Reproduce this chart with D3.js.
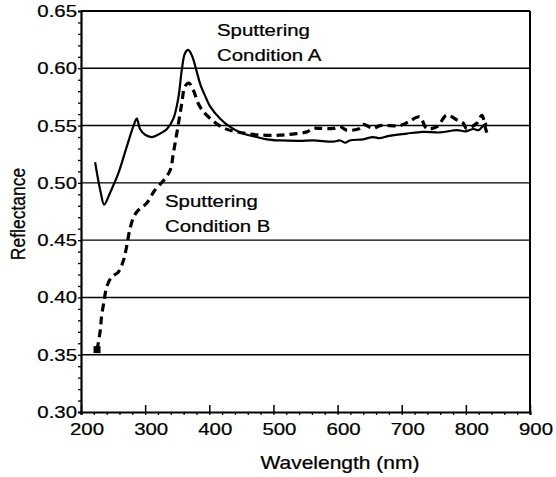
<!DOCTYPE html>
<html>
<head>
<meta charset="utf-8">
<script src="https://cdn.jsdelivr.net/npm/d3@7"></script>
<style>
  body { margin: 0; background: #fff; }
  text { font-family: "Liberation Sans", Arial, Helvetica, sans-serif; fill: #000; stroke: #000; stroke-width: 0.25px; }
</style>
</head>
<body>
<script>
// Condizione A (linea continua)
const wavelengthA = [222, 227, 231, 236, 245, 258, 271, 282, 287, 292, 300, 310, 320, 334, 344, 352, 357, 362, 367, 373,
    380, 386, 395, 401, 417, 432, 448, 474, 490, 510, 541, 562, 593, 604, 612, 619, 640, 655, 666, 680,
    708, 733, 760, 786, 800, 812, 820, 827, 833];
const reflectanceA = [0.518, 0.502, 0.491, 0.481, 0.491, 0.508, 0.531, 0.550, 0.556, 0.547, 0.542, 0.540, 0.542, 0.547, 0.556, 0.575, 0.598, 0.613, 0.616, 0.611,
    0.598, 0.586, 0.574, 0.567, 0.556, 0.549, 0.544, 0.540, 0.538, 0.537, 0.5366, 0.537, 0.536, 0.537, 0.535, 0.537, 0.538, 0.540, 0.539, 0.541,
    0.543, 0.5445, 0.544, 0.546, 0.545, 0.547, 0.546, 0.550, 0.552];

// Condizione B (linea tratteggiata)
const wavelengthB = [225, 230, 232, 236, 240, 248, 258, 266, 271, 276, 282, 289, 302, 315, 330, 339, 344, 352, 357, 362,
    368, 375, 383, 391, 404, 422, 443, 474, 510, 536, 552, 562, 573, 593, 604, 614, 635, 640, 656, 666,
    697, 710, 728, 739, 755, 770, 786, 796, 801, 817, 825, 830, 833];
const reflectanceB = [0.354, 0.371, 0.383, 0.397, 0.409, 0.418, 0.422, 0.432, 0.444, 0.459, 0.470, 0.476, 0.482, 0.4935, 0.503, 0.511, 0.526, 0.552, 0.569, 0.584,
    0.587, 0.581, 0.569, 0.562, 0.555, 0.548, 0.5445, 0.542, 0.5416, 0.543, 0.5445, 0.5475, 0.5475, 0.5475, 0.549, 0.546, 0.5475, 0.551, 0.5475, 0.550,
    0.550, 0.553, 0.5576, 0.5475, 0.549, 0.559, 0.555, 0.552, 0.5475, 0.552, 0.559, 0.549, 0.543];

const xTicks = [200, 300, 400, 500, 600, 700, 800, 900];
const yTicks = [0.30, 0.35, 0.40, 0.45, 0.50, 0.55, 0.60, 0.65];
const gridValues = [0.35, 0.40, 0.45, 0.50, 0.55, 0.60];

const svgWidth = 556;
const svgHeight = 477;
const margin = {top: 11, right: 26, bottom: 65, left: 81};
const chartWidth = svgWidth - margin.left - margin.right;
const chartHeight = svgHeight - margin.top - margin.bottom;
const stretch = 1.2;   // il testo dell'originale e' allargato in orizzontale

const svg = d3.select("body").append("svg")
    .attr("width", svgWidth)
    .attr("height", svgHeight);

const g = svg.append("g")
    .attr("transform", `translate(${margin.left},${margin.top})`);

const x = d3.scaleLinear().domain([200, 900]).range([0, chartWidth]);
const y = d3.scaleLinear().domain([0.30, 0.65]).range([chartHeight, 0]);

function label(parent, px, py, str, size, anchor) {
    parent.append("text")
        .attr("transform", `translate(${px},${py}) scale(${stretch},1)`)
        .attr("text-anchor", anchor || "start")
        .style("font-size", size + "px")
        .text(str);
}

// griglia orizzontale
g.selectAll("line.grid")
    .data(gridValues)
    .join("line")
    .attr("class", "grid")
    .attr("x1", 0).attr("x2", chartWidth)
    .attr("y1", d => y(d)).attr("y2", d => y(d))
    .attr("stroke", "#000")
    .attr("stroke-width", 1.4);

// bordo superiore e destro
g.append("line")
    .attr("x1", 0).attr("x2", chartWidth)
    .attr("y1", y(0.65)).attr("y2", y(0.65))
    .attr("stroke", "#000").attr("stroke-width", 2);
g.append("line")
    .attr("x1", chartWidth).attr("x2", chartWidth)
    .attr("y1", 0).attr("y2", chartHeight)
    .attr("stroke", "#000").attr("stroke-width", 2);

// asse Y: tacche minori ogni 0.01
const yAxis = g.append("g")
    .call(d3.axisLeft(y).tickValues(d3.range(30, 66, 1).map(d => d / 100)).tickSize(3).tickFormat(""));
yAxis.select(".domain").attr("stroke-width", 2.2);
yAxis.selectAll(".tick line").attr("stroke-width", 1.3);

const yLab = g.append("g");
yTicks.forEach(v => label(yLab, -4, y(v) + 6, d3.format(".2f")(v), 17, "end"));

// asse X: tacche minori ogni 20 nm verso il basso, maggiori verso l'alto
const xMinor = g.append("g")
    .attr("transform", `translate(0,${chartHeight})`)
    .call(d3.axisBottom(x).tickValues(d3.range(200, 901, 20)).tickSize(3).tickFormat(""));
xMinor.select(".domain").attr("stroke-width", 2.2);
xMinor.selectAll(".tick line").attr("stroke-width", 1.3);

const xMajor = g.append("g")
    .attr("transform", `translate(0,${chartHeight})`)
    .call(d3.axisBottom(x).tickValues(xTicks).tickSizeInner(-7).tickSizeOuter(0).tickFormat(""));
xMajor.select(".domain").remove();
xMajor.selectAll(".tick line").attr("stroke-width", 1.5);

const xLab = g.append("g");
xTicks.forEach(v => label(xLab, x(v) + 6, chartHeight + 23, String(v), 17, "middle"));

// titoli degli assi
label(svg, 340, 469, "Wavelength (nm)", 17.5, "middle");
svg.append("text")
    .attr("transform", "translate(25,214) rotate(-90) scale(1,1.15)")
    .attr("text-anchor", "middle")
    .style("font-size", "17.5px")
    .text("Reflectance");

// curve
const line = d3.line()
    .x(d => x(d[0]))
    .y(d => y(d[1]))
    .curve(d3.curveCatmullRom.alpha(0.5));

const dataA = wavelengthA.map((w, i) => [w, reflectanceA[i]]);
const dataB = wavelengthB.map((w, i) => [w, reflectanceB[i]]);

g.append("path")
    .datum(dataA)
    .attr("d", line)
    .attr("fill", "none")
    .attr("stroke", "#000")
    .attr("stroke-width", 2.2)
    .attr("stroke-linejoin", "round");

g.append("path")
    .datum(dataB)
    .attr("d", line)
    .attr("fill", "none")
    .attr("stroke", "#000")
    .attr("stroke-width", 3.2)
    .attr("stroke-dasharray", "8,5");

g.append("rect")
    .attr("x", x(wavelengthB[0]) - 3.5)
    .attr("y", y(reflectanceB[0]) - 4)
    .attr("width", 7)
    .attr("height", 7)
    .attr("fill", "#000");

// etichette delle curve
label(svg, 217, 36, "Sputtering", 17);
label(svg, 217, 61, "Condition A", 17);
label(svg, 165, 207, "Sputtering", 17);
label(svg, 165, 232, "Condition B", 17);
</script>
</body>
</html>
